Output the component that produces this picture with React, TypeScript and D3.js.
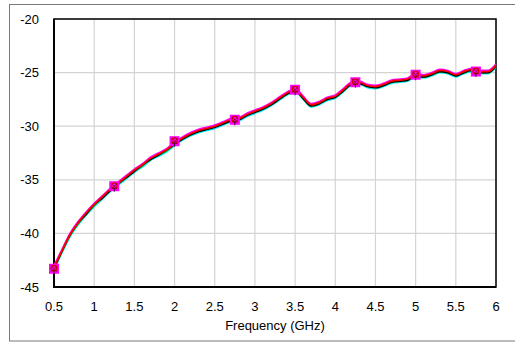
import * as d3 from 'd3';

// Frequency sweep (GHz) and traces
const freqs = [
  0.5, 0.6, 0.7, 0.8, 0.9, 1.0, 1.1, 1.2, 1.3, 1.4,
  1.5, 1.6, 1.7, 1.8, 1.9, 2.0, 2.1, 2.2, 2.3, 2.4,
  2.5, 2.6, 2.7, 2.8, 2.9, 3.0, 3.1, 3.2, 3.3, 3.4,
  3.5, 3.6, 3.7, 3.8, 3.9, 4.0, 4.1, 4.2, 4.3, 4.4,
  4.5, 4.6, 4.7, 4.8, 4.9, 5.0, 5.1, 5.2, 5.3, 5.4,
  5.5, 5.6, 5.7, 5.8, 5.9, 6.0,
];

const cyanTrace = [
  -43.4, -41.8, -40.3, -39.2, -38.3, -37.5, -36.8, -36.1, -35.5, -34.9,
  -34.3, -33.8, -33.2, -32.8, -32.4, -31.8, -31.3, -30.9, -30.6, -30.4,
  -30.2, -29.9, -29.6, -29.5, -29.1, -28.8, -28.5, -28.1, -27.6, -27.1,
  -26.8, -27.5, -28.2, -28.0, -27.6, -27.4, -26.8, -26.2, -26.1, -26.4,
  -26.5, -26.3, -26.0, -25.9, -25.8, -25.4, -25.5, -25.3, -25.0, -25.1,
  -25.4, -25.1, -24.9, -25.1, -25.1, -24.5,
];

const greenTrace = [
  -43.3, -41.7, -40.2, -39.1, -38.2, -37.4, -36.7, -36.0, -35.4, -34.8,
  -34.2, -33.7, -33.1, -32.7, -32.3, -31.7, -31.2, -30.8, -30.5, -30.2,
  -30.0, -29.8, -29.5, -29.3, -28.9, -28.7, -28.4, -28.0, -27.5, -27.0,
  -26.7, -27.4, -28.1, -27.9, -27.5, -27.3, -26.7, -26.1, -26.0, -26.3,
  -26.4, -26.2, -25.9, -25.8, -25.7, -25.3, -25.4, -25.2, -24.9, -25.0,
  -25.3, -25.0, -24.8, -25.0, -25.0, -24.4,
];

const blackTrace = [
  -43.3, -41.6, -40.1, -39.0, -38.2, -37.3, -36.7, -36.0, -35.3, -34.8,
  -34.2, -33.6, -33.1, -32.7, -32.2, -31.7, -31.2, -30.8, -30.5, -30.3,
  -30.1, -29.8, -29.5, -29.4, -29.0, -28.7, -28.4, -28.0, -27.5, -27.0,
  -26.7, -27.4, -28.1, -27.9, -27.5, -27.3, -26.7, -26.1, -26.0, -26.3,
  -26.4, -26.2, -25.9, -25.8, -25.7, -25.3, -25.4, -25.2, -24.9, -25.0,
  -25.3, -25.0, -24.8, -25.0, -25.0, -24.4,
];

const magentaTrace = [
  -43.0, -41.5, -40.0, -38.9, -38.0, -37.2, -36.5, -35.8, -35.2, -34.6,
  -34.0, -33.5, -32.9, -32.5, -32.1, -31.5, -31.0, -30.6, -30.3, -30.1,
  -29.9, -29.6, -29.3, -29.2, -28.8, -28.5, -28.2, -27.8, -27.3, -26.8,
  -26.5, -27.2, -27.9, -27.7, -27.3, -27.1, -26.5, -25.9, -25.8, -26.1,
  -26.2, -26.0, -25.7, -25.6, -25.5, -25.1, -25.2, -25.0, -24.7, -24.8,
  -25.1, -24.8, -24.6, -24.8, -24.8, -24.2,
];

const redTrace = [
  -43.2, -41.6, -40.1, -39.0, -38.1, -37.3, -36.6, -35.9, -35.3, -34.7,
  -34.1, -33.6, -33.0, -32.6, -32.2, -31.6, -31.1, -30.7, -30.4, -30.2,
  -30.0, -29.7, -29.4, -29.3, -28.9, -28.6, -28.3, -27.9, -27.4, -26.9,
  -26.6, -27.3, -28.0, -27.8, -27.4, -27.2, -26.6, -26.0, -25.9, -26.2,
  -26.3, -26.1, -25.8, -25.7, -25.6, -25.2, -25.3, -25.1, -24.8, -24.9,
  -25.2, -24.9, -24.7, -24.9, -24.9, -24.3,
];

const markerFreqs = [0.5, 1.25, 2.0, 2.75, 3.5, 4.25, 5.0, 5.75];
const markerValues = [-43.3, -35.6, -31.4, -29.4, -26.6, -25.9, -25.2, -24.9];

const xTicks = [0.5, 1, 1.5, 2, 2.5, 3, 3.5, 4, 4.5, 5, 5.5, 6];
const yTicks = [-20, -25, -30, -35, -40, -45];

const traces = [
  { color: '#00e5ff', values: cyanTrace },
  { color: '#00c000', values: greenTrace },
  { color: '#000000', values: blackTrace },
  { color: '#ff00ff', values: magentaTrace },
  { color: '#ff0000', values: redTrace },
];

export default function App() {
  const width = 515;
  const height = 345;
  const plot = { left: 54, top: 19, right: 496, bottom: 287 };

  const x = d3.scaleLinear().domain([0.5, 6]).range([plot.left, plot.right]);
  const y = d3.scaleLinear().domain([-45, -20]).range([plot.bottom, plot.top]);

  const line = d3
    .line<number>()
    .x((_, i) => x(freqs[i]))
    .y((d) => y(d))
    .curve(d3.curveMonotoneX);

  const font = "'Liberation Sans', Arial, sans-serif";

  return (
    <svg
      width={width}
      height={height}
      style={{ position: 'fixed', left: 0, top: 0, background: '#fff' }}
      fontFamily={font}
    >
      {/* outer frame */}
      <rect x={9.5} y={4.5} width={520} height={336.5} fill="none" stroke="#7a7a7a" strokeWidth={1} />

      {/* grid */}
      {xTicks.map((t) => (
        <line key={'gx' + t} x1={x(t)} x2={x(t)} y1={plot.top} y2={plot.bottom} stroke="#d4d4d4" strokeWidth={1.2} />
      ))}
      {yTicks.map((t) => (
        <line key={'gy' + t} x1={plot.left} x2={plot.right} y1={y(t)} y2={y(t)} stroke="#d4d4d4" strokeWidth={1.2} />
      ))}

      {/* plot frame */}
      <rect
        x={plot.left}
        y={plot.top}
        width={plot.right - plot.left}
        height={plot.bottom - plot.top}
        fill="none"
        stroke="#000"
        strokeWidth={1.5}
      />
      <line x1={plot.left} x2={plot.left} y1={plot.top} y2={plot.bottom + 1} stroke="#000" strokeWidth={2} />
      <line x1={plot.left} x2={plot.right} y1={plot.bottom} y2={plot.bottom} stroke="#000" strokeWidth={2} />

      {/* traces */}
      {traces.map((tr) => (
        <path key={tr.color} d={line(tr.values) ?? ''} fill="none" stroke={tr.color} strokeWidth={1.7} />
      ))}

      {/* markers */}
      {markerFreqs.map((f, i) => {
        const cx = x(f);
        const cy = y(markerValues[i]);
        return (
          <g key={'m' + f}>
            <rect x={cx - 5} y={cy - 5} width={10} height={10} fill="#ff00ff" />
            <circle cx={cx} cy={cy - 0.5} r={2.8} fill="none" stroke="#d00000" strokeWidth={1.3} />
            <path d={`M${cx - 3},${cy - 3}L${cx + 3},${cy + 3}M${cx - 3},${cy + 3}L${cx + 3},${cy - 3}`} stroke="#800000" strokeWidth={0.8} />
            <path d={`M${cx},${cy + 1.5}L${cx},${cy + 5.5}`} stroke="#000" strokeWidth={0.8} />
          </g>
        );
      })}

      {/* y tick labels */}
      {yTicks.map((t) => (
        <text key={'ty' + t} x={39} y={y(t)} dy="0.35em" textAnchor="end" fontSize={13} fill="#000">
          {t}
        </text>
      ))}

      {/* x tick labels */}
      {xTicks.map((t) => (
        <text key={'tx' + t} x={x(t)} y={311} textAnchor="middle" fontSize={13} fill="#000">
          {t}
        </text>
      ))}

      <text x={(plot.left + plot.right) / 2} y={330} textAnchor="middle" fontSize={13} fill="#000">
        Frequency (GHz)
      </text>
    </svg>
  );
}
